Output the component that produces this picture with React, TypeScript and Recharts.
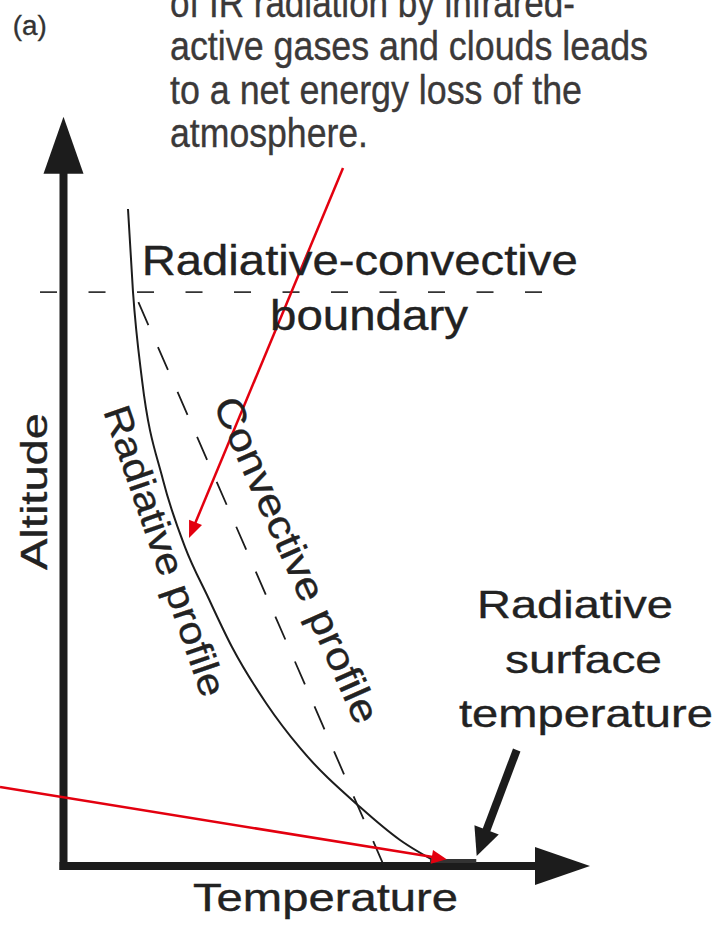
import { ComposedChart, Line, XAxis, YAxis, ReferenceLine, ReferenceDot } from 'recharts';

const FONT = '"Liberation Sans", Arial, Helvetica, sans-serif';
const INK = '#1c1c1c';
const LABEL = '#222222';
const CAPTION = '#3b3939';
const RED = '#e3000f';

// radiative equilibrium profile (temperature vs altitude, arbitrary 0-100 units)
const radiativeTemp = [12.25, 13.2, 14.91, 18.9, 23.08, 27.5, 32.0, 38.46, 44.92, 56.32, 63.91, 71.51];
const radiativeAlt = [87.68, 76.6, 64.87, 51.51, 42.57, 35.8, 29.23, 21.76, 15.75, 7.87, 3.47, 0.27];

// convective (adiabatic) profile, straight line below the boundary
const convectiveTemp = [13.39, 60.87];
const convectiveAlt = [76.6, 0];

const boundaryAlt = 76.6;
const boundaryTempRange = [-4.46, 91.45];
const surfaceTempRange = [69.6, 78.4];

// arrows: [temp, alt] from -> to
const coolingArrow = [[53.09, 93.15], [23.84, 43.77]];
const surfaceRedArrow = [[-12.06, 10.54], [72.78, 0.89]];
const surfaceBlackArrow = [[86.08, 15.48], [78.48, 1.33]];

const captionLines = [
  'of IR radiation by infrared-',
  'active gases and clouds leads',
  'to a net energy loss of the',
  'atmosphere.',
];
const captionWidths = [405, 478, 412, 198];

const radiativeData = radiativeTemp.map((t, i) => ({ t, a: radiativeAlt[i] }));
const convectiveData = convectiveTemp.map((t, i) => ({ t, a: convectiveAlt[i] }));

function arrowShape(color: string, width: number, headLen: number, headHalf: number) {
  return (p: any) => {
    const { x1, y1, x2, y2 } = p;
    const dx = x2 - x1;
    const dy = y2 - y1;
    const len = Math.hypot(dx, dy) || 1;
    const ux = dx / len;
    const uy = dy / len;
    const bx = x2 - ux * headLen;
    const by = y2 - uy * headLen;
    const px = -uy;
    const py = ux;
    return (
      <g>
        <line x1={x1} y1={y1} x2={bx + ux} y2={by + uy} stroke={color} strokeWidth={width} />
        <polygon
          points={`${x2},${y2} ${bx + px * headHalf},${by + py * headHalf} ${bx - px * headHalf},${by - py * headHalf}`}
          fill={color}
        />
      </g>
    );
  };
}

type TextOpts = {
  size: number;
  widths: number[];
  color: string;
  angle?: number;
  lineHeight?: number;
};

function textShape(lines: string[], o: TextOpts) {
  return (p: any) => (
    <g transform={`translate(${p.cx},${p.cy}) rotate(${o.angle ?? 0})`}>
      {lines.map((s, i) => (
        <text
          key={s}
          x={0}
          y={i * (o.lineHeight ?? 0)}
          fontSize={o.size}
          fontFamily={FONT}
          fill={o.color}
          stroke={o.color}
          strokeWidth={0.35}
          textLength={o.widths[i]}
          lengthAdjust="spacingAndGlyphs"
        >
          {s}
        </text>
      ))}
    </g>
  );
}

const seg = (pts: number[][]) => pts.map(([x, y]) => ({ x, y }));

export default function App() {
  return (
    <div style={{ position: 'absolute', left: 0, top: 0, width: 717, height: 930, background: '#fff' }}>
      <ComposedChart width={717} height={930} margin={{ top: 116.7, right: 127, bottom: 64, left: 63.5 }}>
        <XAxis type="number" dataKey="t" domain={[0, 100]} hide allowDataOverflow />
        <YAxis type="number" dataKey="a" domain={[0, 100]} hide allowDataOverflow />

        {/* labels */}
        <ReferenceDot x={-9.65} y={110.9} r={0} ifOverflow="visible"
          shape={textShape(['(a)'], { size: 27, widths: [34], color: '#333' })} />
        <ReferenceDot x={20.23} y={113.27} r={0} ifOverflow="visible"
          shape={textShape(captionLines, { size: 40, widths: captionWidths, color: CAPTION, lineHeight: 43.2 })} />
        <ReferenceDot x={14.85} y={78.87} r={0} ifOverflow="visible"
          shape={textShape(['Radiative-convective'], { size: 42, widths: [436], color: LABEL })} />
        <ReferenceDot x={39.22} y={71.53} r={0} ifOverflow="visible"
          shape={textShape(['boundary'], { size: 42, widths: [198], color: LABEL })} />
        <ReferenceDot x={78.54} y={33.06} r={0} ifOverflow="visible"
          shape={textShape(['Radiative'], { size: 39.5, widths: [196], color: LABEL })} />
        <ReferenceDot x={83.85} y={25.76} r={0} ifOverflow="visible"
          shape={textShape(['surface'], { size: 39.5, widths: [157], color: LABEL })} />
        <ReferenceDot x={75.1} y={18.55} r={0} ifOverflow="visible"
          shape={textShape(['temperature'], { size: 39.5, widths: [254], color: LABEL })} />
        <ReferenceDot x={24.6} y={-6.0} r={0} ifOverflow="visible"
          shape={textShape(['Temperature'], { size: 39, widths: [265], color: LABEL })} />
        <ReferenceDot x={-3.19} y={39.5} r={0} ifOverflow="visible"
          shape={textShape(['Altitude'], { size: 36, widths: [157], color: LABEL, angle: -90 })} />
        <ReferenceDot x={7.5} y={60.72} r={0} ifOverflow="visible"
          shape={textShape(['Radiative profile'], { size: 38, widths: [305], color: LABEL, angle: 71 })} />
        <ReferenceDot x={28.34} y={61.66} r={0} ifOverflow="visible"
          shape={textShape(['Convective profile'], { size: 39, widths: [353], color: LABEL, angle: 66 })} />

        {/* radiative-convective boundary */}
        <ReferenceLine
          segment={[{ x: boundaryTempRange[0], y: boundaryAlt }, { x: boundaryTempRange[1], y: boundaryAlt }]}
          stroke="#333"
          strokeWidth={1.8}
          strokeDasharray="17 31.5"
          ifOverflow="visible"
        />

        <Line data={radiativeData} dataKey="a" type="monotone" stroke={INK} strokeWidth={2}
          dot={false} activeDot={false} isAnimationActive={false} />
        <Line data={convectiveData} dataKey="a" type="linear" stroke={INK} strokeWidth={1.8}
          strokeDasharray="25 24" strokeDashoffset={38} dot={false} activeDot={false} isAnimationActive={false} />

        {/* axes */}
        <ReferenceLine segment={[{ x: 0, y: -0.53 }, { x: 0, y: 100 }]} ifOverflow="visible"
          shape={arrowShape(INK, 8, 57, 20)} />
        <ReferenceLine segment={[{ x: -0.76, y: 0 }, { x: 100, y: 0 }]} ifOverflow="visible"
          shape={arrowShape(INK, 8, 55, 19)} />
        <ReferenceLine
          segment={[{ x: surfaceTempRange[0], y: 0.67 }, { x: surfaceTempRange[1], y: 0.67 }]}
          stroke="#333" strokeWidth={4} ifOverflow="visible"
        />

        {/* arrows */}
        <ReferenceLine segment={seg(surfaceBlackArrow)} ifOverflow="visible" shape={arrowShape(INK, 8, 28, 13)} />
        <ReferenceLine segment={seg(coolingArrow)} ifOverflow="visible" shape={arrowShape(RED, 2.5, 17, 7)} />
        <ReferenceLine segment={seg(surfaceRedArrow)} ifOverflow="visible" shape={arrowShape(RED, 2.5, 15, 7)} />
      </ComposedChart>
    </div>
  );
}
